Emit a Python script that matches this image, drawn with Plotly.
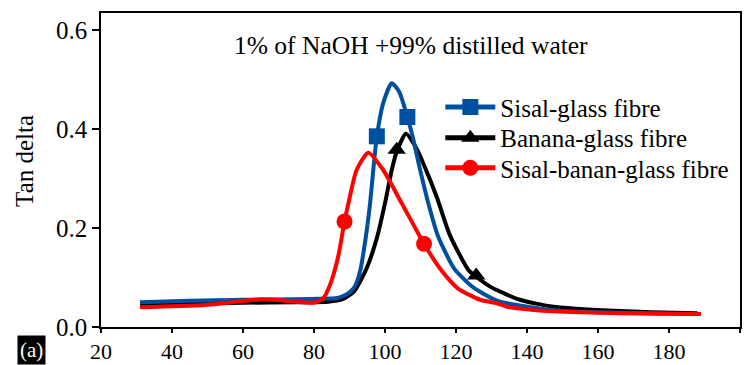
import plotly.graph_objects as go

# ---- data ----
sisal_x = [31, 45, 60, 75, 82, 86, 88, 90, 91.5, 93, 94.6, 95.8, 96.7, 97.7, 99.5, 101.9,
           104, 106.3, 107.8, 109.9, 112.2, 115, 119.5, 124, 127, 131, 135, 141, 147.4, 160, 175, 188]
sisal_y = [0.050, 0.053, 0.055, 0.056, 0.057, 0.058, 0.062, 0.070, 0.082, 0.113, 0.182, 0.250,
           0.317, 0.384, 0.452, 0.492, 0.475, 0.424, 0.384, 0.317, 0.250, 0.182, 0.118, 0.085,
           0.070, 0.055, 0.047, 0.040, 0.034, 0.030, 0.028, 0.026]

banana_x = [31, 45, 60, 75, 84, 88, 91.3, 94.8, 97.8, 100, 101.9, 103.3, 105.9, 108.9, 110.8,
            114.6, 118.3, 123.5, 125.6, 130, 138, 147.4, 161, 175, 188]
banana_y = [0.045, 0.047, 0.049, 0.050, 0.051, 0.056, 0.072, 0.118, 0.182, 0.250, 0.317, 0.354,
            0.390, 0.360, 0.330, 0.262, 0.185, 0.115, 0.102, 0.080, 0.055, 0.041, 0.034, 0.030, 0.028]

hybrid_x = [31, 48, 57, 65, 72, 80, 82.6, 84.5, 86.8, 88.6, 89.7, 92, 95.3, 99.5, 104.7, 111,
            115.5, 120.5, 126.8, 131.5, 134.3, 142.7, 155, 166, 178, 189]
hybrid_y = [0.040, 0.044, 0.050, 0.056, 0.053, 0.049, 0.058, 0.085, 0.142, 0.213, 0.250, 0.317,
            0.352, 0.317, 0.250, 0.168, 0.118, 0.078, 0.055, 0.048, 0.041, 0.034, 0.030, 0.028,
            0.027, 0.026]

# sparse symbol positions
sisal_mx, sisal_my = [97.7, 106.3], [0.385, 0.424]
banana_mx, banana_my = [103.3, 125.7], [0.358, 0.104]
hybrid_mx, hybrid_my = [88.6, 111.0], [0.213, 0.168]

names = ["Sisal-glass fibre", "Banana-glass fibre", "Sisal-banan-glass fibre"]
title_text = "1% of NaOH +99% distilled water"
x_ticks = [20, 40, 60, 80, 100, 120, 140, 160, 180, 200]
y_ticks = [0.0, 0.2, 0.4, 0.6]

BLUE = "#0050A0"
BLACK = "#000000"
RED = "#FF0000"
FONT = "Times New Roman, Liberation Serif, DejaVu Serif, serif"

fig = go.Figure()

# curves (drawn black, blue, red so red sits on top)
for xs, ys, col, grp in [(banana_x, banana_y, BLACK, "b"),
                         (sisal_x, sisal_y, BLUE, "s"),
                         (hybrid_x, hybrid_y, RED, "h")]:
    fig.add_trace(go.Scatter(x=xs, y=ys, mode="lines", showlegend=False, legendgroup=grp,
                             line=dict(color=col, width=4, shape="spline", smoothing=0.6),
                             hoverinfo="skip"))

# symbol traces (each carries its own legend entry)
for mx, my, col, sym, nm, grp, lg in [(sisal_mx, sisal_my, BLUE, "square", names[0], "s", "legend"),
                                      (banana_mx, banana_my, BLACK, "triangle-up", names[1], "b", "legend2"),
                                      (hybrid_mx, hybrid_my, RED, "circle", names[2], "h", "legend3")]:
    gx = [mx[0], None, mx[1]]
    gy = [my[0], None, my[1]]
    fig.add_trace(go.Scatter(x=gx, y=gy, mode="lines+markers", name=nm, legendgroup=grp,
                             legend=lg, connectgaps=False,
                             line=dict(color=col, width=5),
                             marker=dict(color=col, symbol=sym, size=16, line=dict(width=0))))

leg_common = dict(x=0.531, xanchor="left", yanchor="middle", bgcolor="rgba(0,0,0,0)",
                  font=dict(family=FONT, size=25), itemwidth=50)

fig.update_layout(
    width=755, height=365,
    margin=dict(l=101, r=15, t=13, b=38, autoexpand=False),
    paper_bgcolor="white", plot_bgcolor="white",
    font=dict(family=FONT, size=25, color="black"),
    showlegend=True,
    legend=dict(y=0.700, **leg_common),
    legend2=dict(y=0.602, **leg_common),
    legend3=dict(y=0.506, **leg_common),
    xaxis=dict(range=[20, 200], tickvals=x_ticks, ticks="outside", ticklen=4, tickwidth=1.5,
               tickcolor="black", showline=True, linecolor="black", linewidth=1.5,
               mirror=True, showgrid=False, zeroline=False, automargin=False,
               tickfont=dict(family=FONT, size=22)),
    yaxis=dict(range=[0, 0.634], tickvals=y_ticks, tickformat=".1f", ticks="outside",
               ticklen=7, tickwidth=1.5, tickcolor="black", showline=True, linecolor="black",
               linewidth=1.5, mirror=True, showgrid=False, zeroline=False, automargin=False,
               tickfont=dict(family=FONT, size=25)),
    annotations=[
        dict(text=title_text, xref="paper", yref="paper", x=0.4844, y=0.898,
             xanchor="center", yanchor="middle", showarrow=False,
             font=dict(family=FONT, size=25.5, color="black")),
        dict(text="Tan delta", xref="paper", yref="paper", x=-0.12, y=0.53,
             xanchor="center", yanchor="middle", textangle=-90, showarrow=False,
             font=dict(family=FONT, size=25, color="black")),
        dict(text="(a)", xref="paper", yref="paper", x=-0.1095, y=-0.0732,
             xanchor="center", yanchor="middle", showarrow=False, bgcolor="black",
             borderpad=2, font=dict(family=FONT, size=21, color="white")),
    ],
)

fig.write_html("out.html")
